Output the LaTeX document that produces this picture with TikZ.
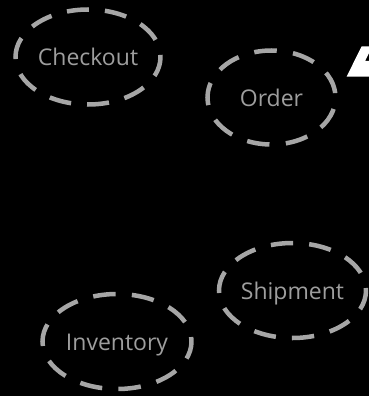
\documentclass[tikz,border=0pt]{standalone}
\usepackage{fontspec}
\setmainfont{Open Sans}
\usetikzlibrary{shapes.geometric}
\definecolor{strokegray}{HTML}{A6A6A6}
\definecolor{textgray}{HTML}{9E9E9E}
\tikzset{
  entity/.style={ellipse, draw=strokegray, line width=4.5pt,
    text=textgray, font=\fontsize{23}{28}\selectfont, inner sep=0pt,
    text height=17.5pt, text depth=0pt},
}
\begin{document}
\begin{tikzpicture}[x=1pt,y=-1pt]
\fill[black] (0,0) rectangle (369,396);
\useasboundingbox (0,0) rectangle (369,396);
\node[entity, minimum width=145pt, minimum height=95pt,
  dash pattern=on 22.1pt off 16pt, dash phase=20pt] (checkout) at (88,57) {Checkout};
\node[entity, minimum width=128pt, minimum height=94pt,
  dash pattern=on 22.6pt off 16.4pt, dash phase=34.6pt] (order) at (271.5,97.5) {Order};
\node[entity, minimum width=147pt, minimum height=95pt,
  dash pattern=on 22.3pt off 16.15pt, dash phase=19.8pt] (shipment) at (292.5,290.5) {Shipment};
\node[entity, minimum width=149pt, minimum height=95pt,
  dash pattern=on 22.5pt off 16.3pt, dash phase=18pt] (inventory) at (117,341.5) {Inventory};
\fill[white] (346.7,76.5) -- (361.5,46.5) -- (369,46.5) -- (369,53) -- (365,61) -- (369,61) -- (369,76.5) -- cycle;
\end{tikzpicture}
\end{document}
